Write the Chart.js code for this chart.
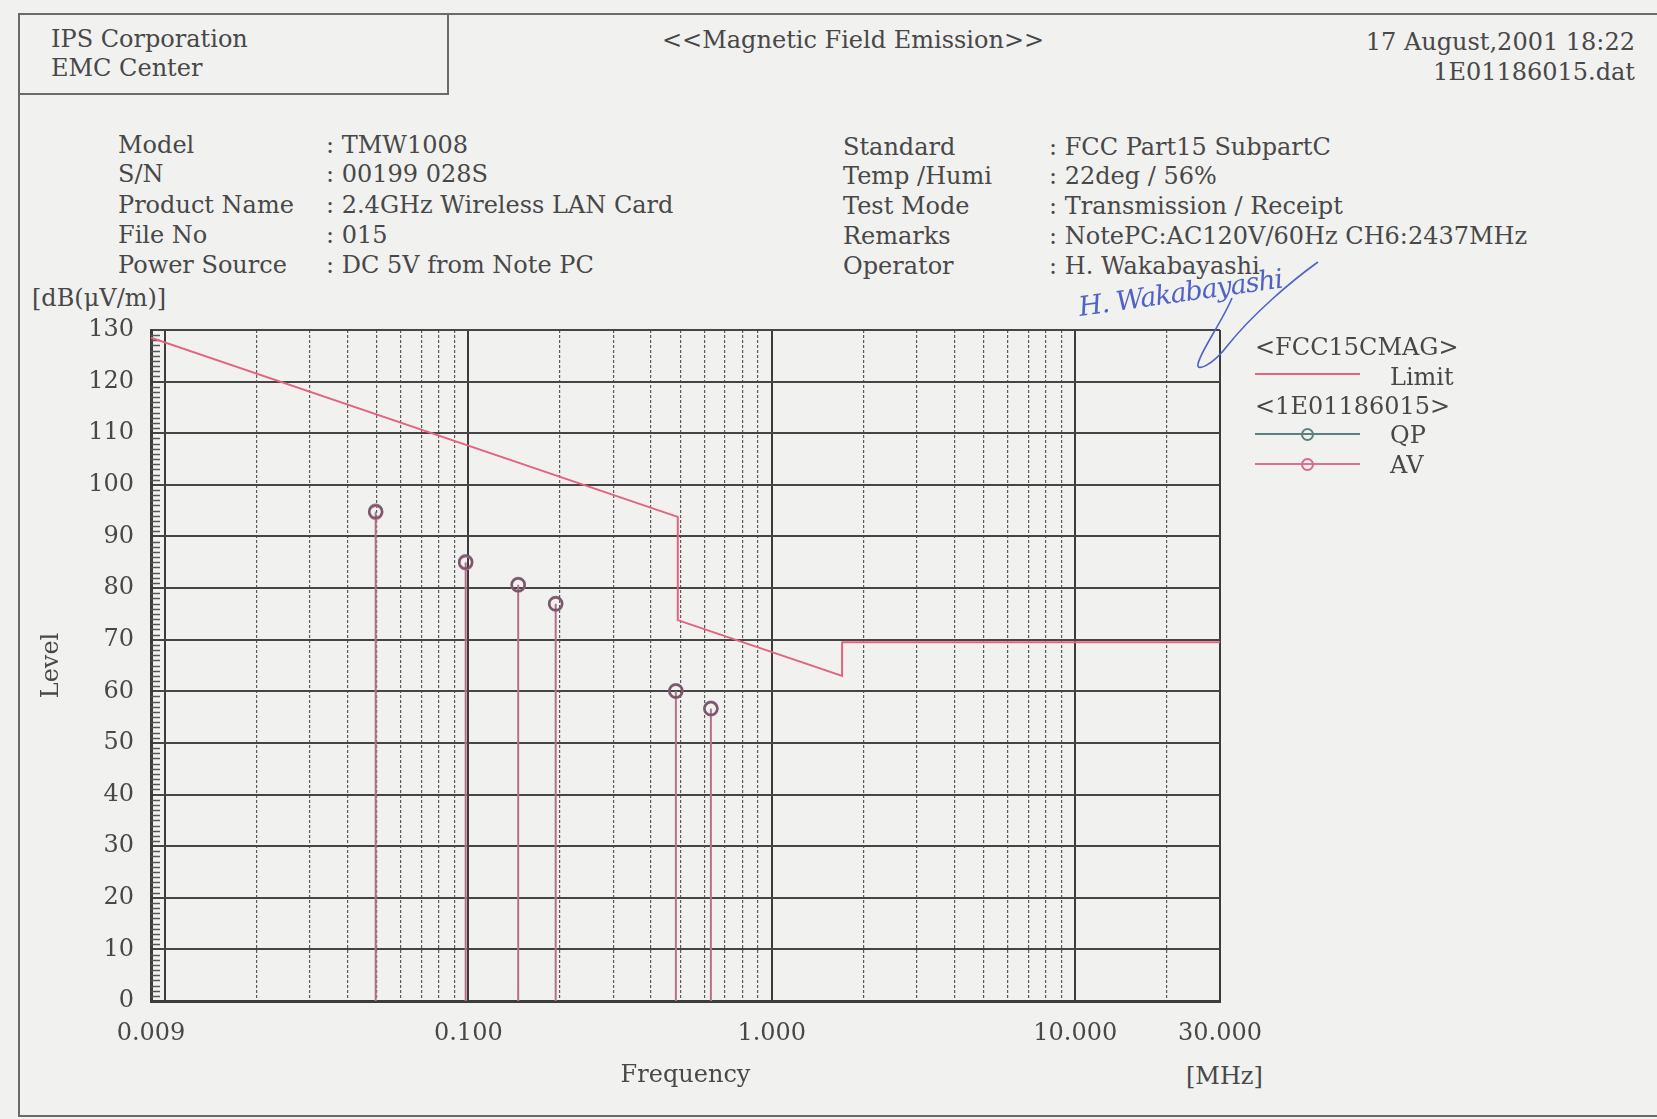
<!DOCTYPE html>
<html>
<head>
<meta charset="utf-8">
<title>Magnetic Field Emission</title>
<script src="https://cdn.jsdelivr.net/npm/chart.js@4.4.0/dist/chart.umd.min.js"></script>
<style>
  html, body { margin: 0; padding: 0; }
  body {
    width: 1657px; height: 1119px; position: relative; overflow: hidden;
    background: #f1f1f0; color: #484848;
    font-family: "DejaVu Serif", "Liberation Serif", serif;
  }
  #chart { position: absolute; left: 0; top: 0; }
  .t { position: absolute; font-size: 24px; line-height: 24px; white-space: nowrap; }
  .r { text-align: right; }
  .frame { position: absolute; border-color: #6a6a6a; border-style: solid; border-width: 0; }
  .lg { position: absolute; height: 0; border-top: 2px solid; width: 105px; }
  .dot { position: absolute; width: 9px; height: 9px; border: 2px solid; border-radius: 50%; }
</style>
</head>
<body>
<!-- page frame and header box -->
<div class="frame" style="left:18px; top:13px; width:1639px; height:1100px; border-left-width:2px; border-top-width:2px; border-bottom-width:2px;"></div>
<div class="frame" style="left:18px; top:13px; width:429px; height:80px; border-right-width:2px; border-bottom-width:2px;"></div>

<div class="t" style="left:51px; top:27px;">IPS Corporation</div>
<div class="t" style="left:51px; top:56px;">EMC Center</div>
<div class="t" style="left:662px; top:28px;">&lt;&lt;Magnetic Field Emission&gt;&gt;</div>
<div class="t r" style="right:22px; top:30px;">17 August,2001 18:22</div>
<div class="t r" style="right:22px; top:60px;">1E01186015.dat</div>

<div class="t" style="left:118px; top:133px;">Model</div>
<div class="t" style="left:118px; top:162px;">S/N</div>
<div class="t" style="left:118px; top:193px;">Product Name</div>
<div class="t" style="left:118px; top:223px;">File No</div>
<div class="t" style="left:118px; top:253px;">Power Source</div>
<div class="t" style="left:326px; top:133px;">: TMW1008</div>
<div class="t" style="left:326px; top:162px;">: 00199 028S</div>
<div class="t" style="left:326px; top:193px;">: 2.4GHz Wireless LAN Card</div>
<div class="t" style="left:326px; top:223px;">: 015</div>
<div class="t" style="left:326px; top:253px;">: DC 5V from Note PC</div>

<div class="t" style="left:843px; top:135px;">Standard</div>
<div class="t" style="left:843px; top:164px;">Temp /Humi</div>
<div class="t" style="left:843px; top:194px;">Test Mode</div>
<div class="t" style="left:843px; top:224px;">Remarks</div>
<div class="t" style="left:843px; top:254px;">Operator</div>
<div class="t" style="left:1049px; top:135px;">: FCC Part15 SubpartC</div>
<div class="t" style="left:1049px; top:164px;">: 22deg / 56%</div>
<div class="t" style="left:1049px; top:194px;">: Transmission / Receipt</div>
<div class="t" style="left:1049px; top:224px;">: NotePC:AC120V/60Hz CH6:2437MHz</div>
<div class="t" style="left:1049px; top:254px;">: H. Wakabayashi</div>

<div class="t" style="left:32px; top:286px;">[dB(&#956;V/m)]</div>
<div class="t" style="left:1186px; top:1064px;">[MHz]</div>

<canvas id="chart" width="1657" height="1119"></canvas>

<!-- legend -->
<div class="t" style="left:1255px; top:335px;">&lt;FCC15CMAG&gt;</div>
<div class="lg" style="left:1255px; top:373px; border-color:#e4637f;"></div>
<div class="t" style="left:1390px; top:365px;">Limit</div>
<div class="t" style="left:1255px; top:394px;">&lt;1E01186015&gt;</div>
<div class="lg" style="left:1255px; top:433px; border-color:#5b817f;"></div>
<div class="dot" style="left:1301px; top:428px; border-color:#5b817f;"></div>
<div class="t" style="left:1390px; top:423px;">QP</div>
<div class="lg" style="left:1255px; top:463px; border-color:#e0708f;"></div>
<div class="dot" style="left:1301px; top:458px; border-color:#d9678f;"></div>
<div class="t" style="left:1390px; top:453px;">AV</div>

<!-- operator signature -->
<svg style="position:absolute; left:0; top:0;" width="1657" height="420">
  <text x="1080" y="316" transform="rotate(-8 1080 316)" fill="#5062c8"
        font-family="DejaVu Serif" font-style="italic" font-size="27"
        letter-spacing="-1">H. Wakabayashi</text>
  <path d="M1232,298 C1222,322 1200,352 1198,364 C1196,372 1212,366 1228,345 C1252,315 1290,282 1318,262"
        fill="none" stroke="#5062c8" stroke-width="1.6"/>
</svg>

<script>
// limit line (FCC15CMAG)
const limitFreq = [0.009, 0.49, 0.49, 1.705, 1.705, 30];
const limitLevel = [128.5, 93.8, 73.8, 63.0, 69.5, 69.5];

// measured peaks
const peakFreq = [0.0495, 0.098, 0.146, 0.194, 0.483, 0.630];
const qpLevel = [94.9, 85.1, 80.7, 77.0, 60.1, 56.7];
const avLevel = [94.7, 84.9, 80.6, 76.9, 60.0, 56.6];

// axis labels
const xTickValues = [0.009, 0.1, 1, 10, 30];
const xTickLabels = ["0.009", "0.100", "1.000", "10.000", "30.000"];
const yMin = 0, yMax = 130, yStep = 10;

const textColor = "#484848";
const fontFamily = "'DejaVu Serif', 'Liberation Serif', serif";

// gridline positions: 1..9 per decade from 0.01 up to 30
const xGrid = [0.009];
[0.01, 0.1, 1, 10].forEach(d => {
  for (let k = 1; k <= 9; k++) {
    const v = Number((k * d).toPrecision(3));
    if (v <= 30) xGrid.push(v);
  }
});

function near(a, b) { return Math.abs(a - b) / b < 1e-6; }
function isMajor(v) {
  return [0.009, 0.01, 0.1, 1, 10, 30].some(m => near(v, m));
}

// a stem per peak: baseline -> level, then a gap
function stems(freqs, levels) {
  const pts = [];
  freqs.forEach((f, i) => {
    pts.push({x: f, y: 0}, {x: f, y: levels[i]}, {x: f, y: null});
  });
  return pts;
}

const rulerPlugin = {
  id: "ruler",
  beforeDatasetsDraw(chart) {
    const {ctx, chartArea, scales} = chart;
    ctx.save();
    ctx.strokeStyle = "#555";
    ctx.lineWidth = 1.5;
    for (let v = yMin + 1; v < yMax; v++) {
      if (v % yStep === 0) continue;
      const py = Math.round(scales.y.getPixelForValue(v)) + 0.5;
      ctx.beginPath();
      ctx.moveTo(chartArea.left, py);
      ctx.lineTo(chartArea.left + 9, py);
      ctx.stroke();
    }
    ctx.restore();
  }
};

const topPoint = ctx => (ctx.dataIndex % 3 === 1 ? 6.5 : 0);

new Chart(document.getElementById("chart"), {
  type: "line",
  data: {
    datasets: [
      {
        label: "QP",
        data: stems(peakFreq, qpLevel),
        borderColor: "rgba(70,105,108,0.35)",
        borderWidth: 1.5,
        pointRadius: topPoint,
        pointBorderWidth: 2.5,
        pointBorderColor: "rgba(75,90,100,0.7)",
        pointBackgroundColor: "rgba(0,0,0,0)",
        order: 0
      },
      {
        label: "AV",
        data: stems(peakFreq, avLevel),
        borderColor: "#e27895",
        borderWidth: 2,
        pointRadius: topPoint,
        pointBorderWidth: 2.5,
        pointBorderColor: "#d45c84",
        pointBackgroundColor: "rgba(0,0,0,0)",
        order: 1
      },
      {
        label: "Limit",
        data: limitFreq.map((f, i) => ({x: f, y: limitLevel[i]})),
        borderColor: "#e4637f",
        borderWidth: 2,
        pointRadius: 0,
        order: 2
      }
    ]
  },
  options: {
    responsive: false,
    animation: false,
    layout: { padding: { left: 0, top: 330, right: 437, bottom: 0 } },
    plugins: { legend: { display: false }, tooltip: { enabled: false } },
    scales: {
      x: {
        type: "logarithmic",
        min: 0.009,
        max: 30,
        afterBuildTicks: s => { s.ticks = xGrid.map(v => ({value: v})); },
        afterFit: s => { s.height = 118; },
        ticks: {
          autoSkip: false, maxRotation: 0, minRotation: 0, padding: 18,
          color: textColor, font: { family: fontFamily, size: 24 },
          callback: v => {
            const i = xTickValues.findIndex(t => near(v, t));
            return i >= 0 ? xTickLabels[i] : "";
          }
        },
        grid: {
          drawTicks: false,
          color: ctx => (ctx.tick && isMajor(ctx.tick.value) ? "#3c3c3c" : "#5a5a5a"),
          lineWidth: ctx => (ctx.tick && isMajor(ctx.tick.value) ? 2 : 1.2)
        },
        border: {
          color: "#3c3c3c", width: 3,
          dash: ctx => (ctx.tick && !isMajor(ctx.tick.value) ? [3, 2] : [])
        },
        title: {
          display: true, text: "Frequency", color: textColor,
          font: { family: fontFamily, size: 24 }, padding: { top: 0, bottom: 29 }
        }
      },
      y: {
        type: "linear",
        min: yMin,
        max: yMax,
        afterFit: s => { s.width = 151; },
        ticks: {
          stepSize: yStep, padding: 17, color: textColor,
          font: { family: fontFamily, size: 24 }
        },
        grid: { drawTicks: false, color: "#454545", lineWidth: 2 },
        border: { color: "#3c3c3c", width: 3 },
        title: {
          display: true, text: "Level", color: textColor,
          font: { family: fontFamily, size: 24 }, padding: { top: 37, bottom: 0 }
        }
      }
    }
  },
  plugins: [rulerPlugin]
});
</script>
</body>
</html>
